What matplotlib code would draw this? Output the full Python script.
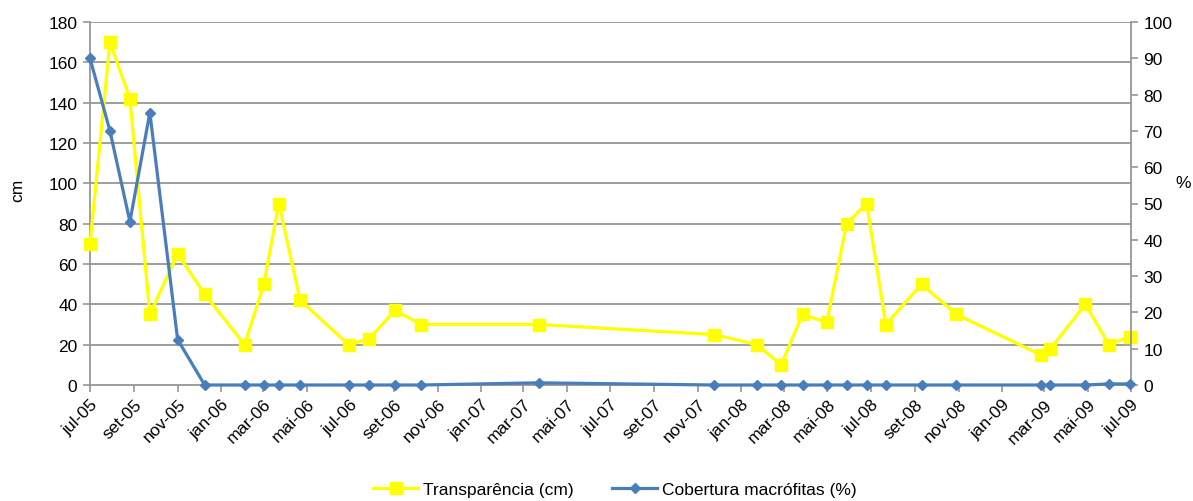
import matplotlib
matplotlib.use("Agg")
import matplotlib.pyplot as plt
import numpy as np
import datetime as dt

plt.rcParams['font.family'] = ['Liberation Sans', 'DejaVu Sans']

dates = ["2005-07-01", "2005-07-29", "2005-08-26", "2005-09-23", "2005-11-01",
         "2005-12-09", "2006-02-03", "2006-03-02", "2006-03-23", "2006-04-22",
         "2006-06-29", "2006-07-28", "2006-09-02", "2006-10-09", "2007-03-23",
         "2007-11-24", "2008-01-23", "2008-02-26", "2008-03-27", "2008-04-30",
         "2008-05-28", "2008-06-25", "2008-07-22", "2008-09-10", "2008-10-29",
         "2009-02-24", "2009-03-10", "2009-04-28", "2009-05-31", "2009-06-29"]
transparencia = [70, 170, 142, 35, 65, 45, 20, 50, 90, 42,
                 20, 23, 37, 30, 30, 25, 20, 10, 35, 31,
                 80, 90, 30, 50, 35, 15, 18, 40, 20, 24]
cobertura = [90, 70, 45, 75, 12.5, 0, 0, 0, 0, 0,
             0, 0, 0, 0, 0.6, 0, 0, 0, 0, 0,
             0, 0, 0, 0, 0, 0, 0, 0, 0.3, 0.3]
month_names = ["jan", "fev", "mar", "abr", "mai", "jun",
               "jul", "ago", "set", "out", "nov", "dez"]

x = [dt.datetime.strptime(d, "%Y-%m-%d") for d in dates]

fig = plt.figure(figsize=(11.93, 5.02), dpi=100)
ax = fig.add_axes([90/1193, 1-386/502, (1131-90)/1193, (386-23)/502])
ax2 = ax.twinx()

grid_c = '#969696'
yellow = '#FFFF00'
blue = '#4A7EBB'

ax.set_ylim(0, 180)
ax.set_yticks(np.arange(0, 181, 20))
ax2.set_ylim(0, 100)
ax2.set_yticks(np.arange(0, 101, 10))

for yv in np.arange(20, 181, 20):
    ax.axhline(yv, color=grid_c, lw=1.3, zorder=0)

l1, = ax.plot(x, transparencia, color=yellow, lw=2.3, marker='s', ms=9,
              markeredgecolor=yellow, zorder=3, clip_on=False,
              label='Transparência (cm)')
l2, = ax2.plot(x, cobertura, color=blue, lw=2.3, marker='D', ms=5.5,
               markeredgecolor=blue, zorder=4, clip_on=False,
               label='Cobertura macrófitas (%)')

x0 = dt.datetime(2005, 7, 1)
x1 = dt.datetime(2009, 7, 1)
ax.set_xlim(x0, x1)
ticks = []
y, m = 2005, 7
while (y, m) <= (2009, 7):
    ticks.append(dt.datetime(y, m, 1))
    m += 2
    if m > 12:
        m -= 12
        y += 1
ax.set_xticks(ticks)
ax.set_xticklabels([f"{month_names[t.month-1]}-{t.year % 100:02d}" for t in ticks],
                   rotation=45, ha='right', rotation_mode='anchor')

for a in (ax, ax2):
    for s in a.spines.values():
        s.set_visible(False)
ax.spines['left'].set_visible(True)
ax.spines['left'].set_color(grid_c)
ax.spines['left'].set_linewidth(1.3)
ax2.spines['right'].set_visible(True)
ax2.spines['right'].set_color(grid_c)
ax2.spines['right'].set_linewidth(1.3)
ax.spines['bottom'].set_visible(True)
ax.spines['bottom'].set_color(grid_c)
ax.spines['bottom'].set_linewidth(1.3)

ax.tick_params(axis='both', colors=grid_c, labelcolor='black', labelsize=12.5,
               length=5, width=1.2)
ax.tick_params(axis='x', pad=3)
ax.tick_params(axis='y', pad=4)
ax2.tick_params(axis='y', colors=grid_c, labelcolor='black', labelsize=12.5,
                length=5, width=1.2, pad=4)

fig.text(18/1193, 1-190/502, 'cm', rotation=90, ha='center', va='center', fontsize=12.5)
fig.text(1183/1193, 1-183/502, '%', ha='center', va='center', fontsize=12.5)

fig.legend(handles=[l1, l2], loc='center', bbox_to_anchor=(615/1193, 1-490/502),
           ncol=2, frameon=False, fontsize=12.5, handlelength=2.6,
           columnspacing=2.2, handletextpad=0.3)

fig.savefig('out.png', dpi=100)
